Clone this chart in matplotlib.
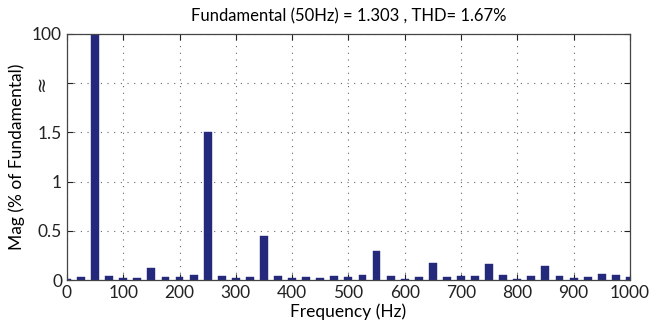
import numpy as np
import matplotlib.pyplot as plt

plt.rcParams['font.family'] = ['Lato', 'DejaVu Sans']

# harmonic spectrum, every 25 Hz from 0 to 1000 Hz (% of fundamental)
freqs = np.arange(0, 1001, 25)
mags = [0.01, 0.034, 100, 0.04, 0.024, 0.02, 0.12, 0.027, 0.027, 0.048,
        1.5, 0.04, 0.02, 0.034, 0.45, 0.037, 0.02, 0.03, 0.024, 0.04,
        0.03, 0.048, 0.30, 0.037, 0.014, 0.034, 0.17, 0.027, 0.04, 0.04,
        0.16, 0.048, 0.007, 0.037, 0.146, 0.04, 0.017, 0.03, 0.061, 0.048,
        0.027]

ytick_pos = [0, 0.5, 1, 1.5, 2, 2.5]
ytick_labels = ['0', '0.5', '1', '1.5', '', '100']
xtick_pos = np.arange(0, 1001, 100)

fig = plt.figure(figsize=(6.5, 3.33), dpi=100)
ax = fig.add_axes([0.103, 0.159, 0.866, 0.739])

ax.bar(freqs, mags, width=14, color='#24297c', edgecolor='#24297c', linewidth=0.3)

ax.set_xlim(0, 1000)
ax.set_ylim(0, 2.5)
ax.set_xticks(xtick_pos)
ax.set_yticks(ytick_pos)
ax.set_yticklabels(ytick_labels)

# axis-break mark at y=2, turned on its side
ax.text(-0.045, 2.0, '\u2248', transform=ax.get_yaxis_transform(),
        rotation=90, ha='center', va='center', fontsize=14,
        family='DejaVu Sans', color='#222222')

ax.grid(True, linestyle=(0, (1, 5)), color='#666666', linewidth=0.8)
ax.set_axisbelow(True)
ax.tick_params(direction='in', top=True, right=True, length=4, labelsize=12.5,
               colors='#222222')
for s in ax.spines.values():
    s.set_color('#444444')
    s.set_linewidth(0.9)

ax.set_title('Fundamental (50Hz) = 1.303 , THD= 1.67%', fontsize=12, pad=9)
ax.set_xlabel('Frequency (Hz)', fontsize=12.5, labelpad=2)
ax.set_ylabel('Mag (% of Fundamental)', fontsize=12.5, labelpad=5)

fig.savefig('out.png', dpi=100)
